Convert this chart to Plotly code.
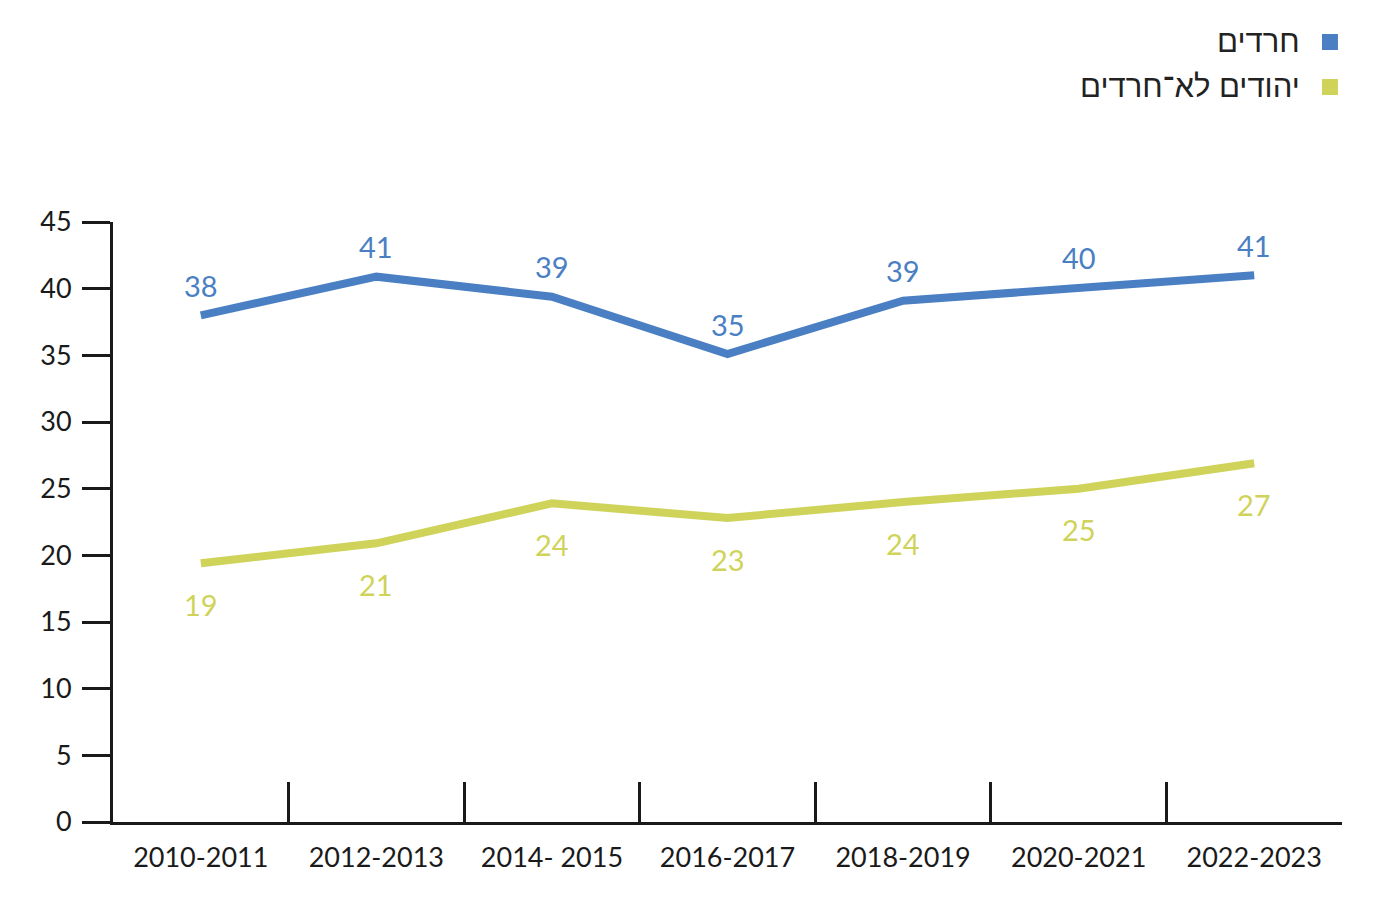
import plotly.graph_objects as go

categories = ["2010-2011", "2012-2013", "2014- 2015", "2016-2017", "2018-2019", "2020-2021", "2022-2023"]
haredim = [38, 40.9, 39.4, 35.1, 39.1, 40.1, 41.0]
non_haredi_jews = [19.4, 20.9, 23.9, 22.8, 24.0, 25.0, 26.9]
series_names = ["חרדים", "יהודים לא־חרדים"]
y_ticks = [0, 5, 10, 15, 20, 25, 30, 35, 40, 45]

BLUE = "#4a7fc3"
YELLOW = "#cfd35a"
FONT = "Lato, 'Open Sans', sans-serif"
HEB_FONT = "'Liberation Sans', 'DejaVu Sans', sans-serif"

fig = go.Figure()
for vals, color, name in [(haredim, BLUE, series_names[0]), (non_haredi_jews, YELLOW, series_names[1])]:
    fig.add_trace(go.Scatter(
        x=categories, y=vals, mode="lines", name=name,
        line=dict(color=color, width=8), showlegend=False, hoverinfo="skip",
    ))

annotations = []
for c, v in zip(categories, haredim):
    annotations.append(dict(x=c, y=v, text=f"{v:.0f}", showarrow=False, yshift=30,
                            font=dict(family=FONT, size=29, color=BLUE)))
for c, v in zip(categories, non_haredi_jews):
    annotations.append(dict(x=c, y=v, text=f"{v:.0f}", showarrow=False, yshift=-41,
                            font=dict(family=FONT, size=29, color=YELLOW)))

# legend (RTL style: square on the right of text)
for i, (name, color) in enumerate(zip(series_names, [BLUE, YELLOW])):
    yc = 1.30 - i * 0.075
    annotations.append(dict(xref="paper", yref="paper", x=0.9675, y=yc, xanchor="right", yanchor="middle",
                            text=name, showarrow=False,
                            font=dict(family=HEB_FONT, size=31, color="#222222")))

shapes = []
for i, color in enumerate([BLUE, YELLOW]):
    yc = 1.30 - i * 0.075
    shapes.append(dict(type="rect", xref="paper", yref="paper", x0=0.9837, x1=0.9967,
                       y0=yc - 0.0133, y1=yc + 0.0133, fillcolor=color, line=dict(width=0)))

fig.update_layout(
    width=1369, height=893,
    margin=dict(l=105, r=35, t=214, b=79),
    paper_bgcolor="white", plot_bgcolor="white",
    annotations=annotations, shapes=shapes,
    xaxis=dict(
        type="category", showgrid=False, zeroline=False,
        showline=True, linecolor="#1a1a1a", linewidth=3,
        ticks="inside", tickson="boundaries", ticklen=40, tickwidth=2.5, tickcolor="#1a1a1a",
        tickfont=dict(family=FONT, size=27, color="#1a1a1a"),
        ticklabelstandoff=10,
        range=[-0.5, 6.5],
    ),
    yaxis=dict(
        range=[0, 45], tickvals=y_ticks, showgrid=False, zeroline=False,
        showline=True, linecolor="#1a1a1a", linewidth=3,
        ticks="outside", ticklen=28, tickwidth=3, tickcolor="#1a1a1a",
        tickfont=dict(family=FONT, size=27, color="#1a1a1a"),
        ticklabelstandoff=5,
    ),
)

fig.write_html("out.html")
